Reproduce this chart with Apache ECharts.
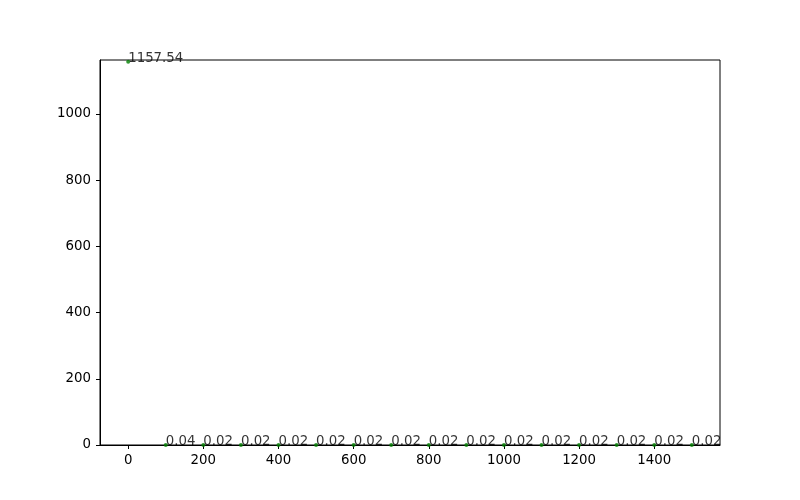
<!DOCTYPE html>
<html><head><meta charset="utf-8">
<script src="https://cdn.jsdelivr.net/npm/echarts@6/dist/echarts.min.js"></script>
<style>html,body{margin:0;padding:0;background:#fff}#c{width:800px;height:500px}</style>
</head><body><div id="c"></div>
<script>
const xValues = [0,100,200,300,400,500,600,700,800,900,1000,1100,1200,1300,1400,1500];
const yValues = [1157.54,0.04,0.02,0.02,0.02,0.02,0.02,0.02,0.02,0.02,0.02,0.02,0.02,0.02,0.02,0.02];
const xTicks = [0,200,400,600,800,1000,1200,1400];
const yTicks = [0,200,400,600,800,1000];

const font = 'DejaVu Sans';
const chart = echarts.init(document.getElementById('c'));
chart.setOption({
  animation:false,
  grid:{left:100,right:80,top:60,bottom:55,show:true,borderColor:'#000',borderWidth:1,backgroundColor:'#fff'},
  xAxis:{type:'value',min:-75,max:1575,
    axisLine:{show:true,onZero:false,lineStyle:{color:'#000',width:1}},
    axisTick:{show:true,inside:false,length:4,customValues:xTicks,lineStyle:{color:'#000'}},
    axisLabel:{customValues:xTicks,color:'#000',fontFamily:font,fontSize:13.33,margin:9,formatter:v=>String(v)},
    splitLine:{show:false}},
  yAxis:{type:'value',min:0,max:1163,
    axisLine:{show:true,onZero:false,lineStyle:{color:'#000',width:1}},
    axisTick:{show:true,inside:false,length:4,customValues:yTicks,lineStyle:{color:'#000'}},
    axisLabel:{customValues:yTicks,color:'#000',fontFamily:font,fontSize:13.33,margin:9,formatter:v=>String(v)},
    splitLine:{show:false}},
  series:[{type:'scatter',data:xValues.map((x,i)=>[x,yValues[i]]),
    symbolSize:4,itemStyle:{color:'#008000'},clip:false,
    label:{show:true,position:[2,5],align:'left',verticalAlign:'bottom',
      color:'#000',textBorderWidth:0,fontFamily:font,fontSize:13.33,
      formatter:p=>p.value[1].toFixed(2)}}]
});
</script></body></html>
